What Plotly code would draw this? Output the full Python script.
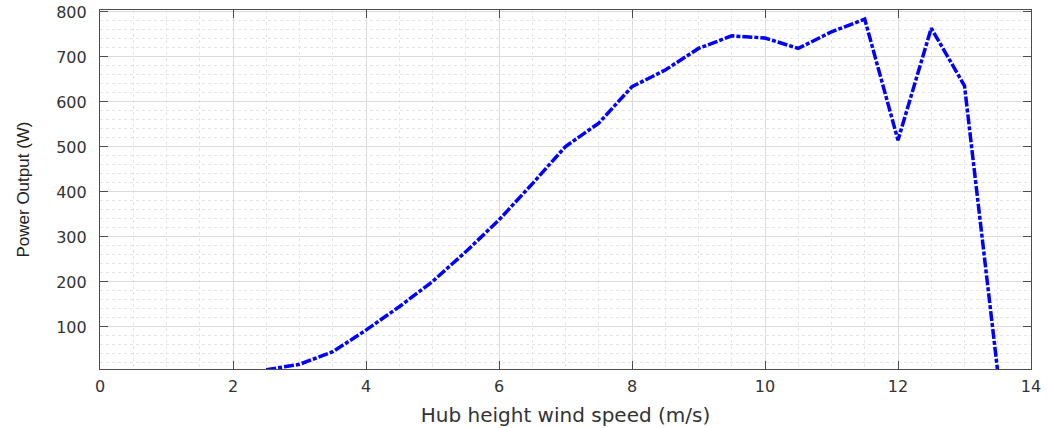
import plotly.graph_objects as go

# Turbine power curve: hub-height wind speed vs. electrical output
wind_speed = [2.5, 3, 3.5, 4, 4.5, 5, 5.5, 6, 6.5, 7, 7.5, 8, 8.5, 9, 9.5,
              10, 10.5, 11, 11.5, 12, 12.5, 13, 13.5]
power_w = [5, 17, 45, 93, 145, 201, 267, 338, 418, 501, 553, 634, 671, 719, 747,
           742, 719, 756, 784, 515, 764, 636, 0]

x_ticks = [0, 2, 4, 6, 8, 10, 12, 14]
y_ticks = [100, 200, 300, 400, 500, 600, 700, 800]

axis_color = "#4d4d4d"
tick_font = dict(family="DejaVu Sans, Arial, sans-serif", size=16, color="#333333")

fig = go.Figure()
fig.add_trace(go.Scatter(
    x=wind_speed, y=power_w, mode="lines",
    line=dict(color="#0000ff", width=3.5, dash="10px,2px,4px,2px"),
    showlegend=False,
))

fig.update_layout(
    width=1049, height=428,
    margin=dict(l=100, r=18, t=10, b=59),
    paper_bgcolor="white", plot_bgcolor="white",
)

fig.update_xaxes(
    range=[0, 14], tickvals=x_ticks, ticktext=[str(v) for v in x_ticks],
    automargin=False,
    showline=True, linecolor=axis_color, linewidth=1.2, mirror="allticks",
    ticks="inside", ticklen=8, tickcolor=axis_color, ticklabelstandoff=3,
    showgrid=True, gridcolor="#dcdcdc", gridwidth=1,
    minor=dict(dtick=0.5, showgrid=True, gridcolor="#e6e6e6", griddash="dot", ticks=""),
    zeroline=False, tickfont=tick_font,
    title=dict(text="Hub height wind speed (m/s)", standoff=12,
               font=dict(family="DejaVu Sans, Arial, sans-serif", size=20, color="#333333")),
)

fig.update_yaxes(
    range=[6.6, 804.4], tickvals=y_ticks, ticktext=[str(v) for v in y_ticks],
    automargin=False,
    showline=True, linecolor=axis_color, linewidth=1.2, mirror="allticks",
    ticks="inside", ticklen=8, tickcolor=axis_color, ticklabelstandoff=9,
    showgrid=True, gridcolor="#dcdcdc", gridwidth=1,
    minor=dict(dtick=20, showgrid=True, gridcolor="#e6e6e6", griddash="dot", ticks=""),
    zeroline=False, tickfont=tick_font,
    title=dict(text="Power Output (W)", standoff=22,
               font=dict(family="Liberation Sans, Arial, sans-serif", size=17, color="#222222")),
)

fig.write_html("out.html")
